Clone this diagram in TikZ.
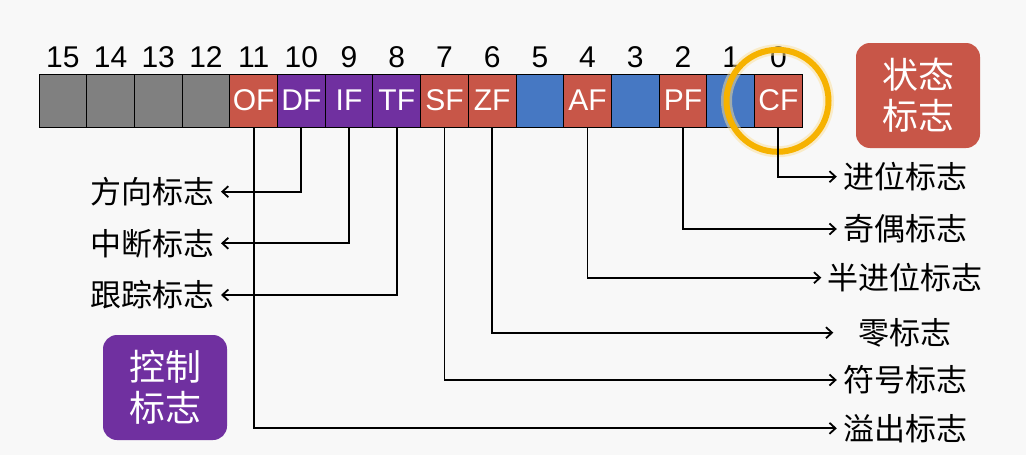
\documentclass[tikz,border=0pt]{standalone}
\usepackage{fontspec}
\setmainfont{Liberation Sans}
\newfontfamily\cjk{Noto Sans CJK SC}
\usetikzlibrary{arrows.meta}
\definecolor{bg}{RGB}{248,248,248}
\definecolor{flagred}{RGB}{200,86,72}
\definecolor{flagpurple}{RGB}{112,48,160}
\definecolor{flagblue}{RGB}{70,120,195}
\definecolor{flaggray}{RGB}{128,128,128}
\definecolor{ring}{RGB}{246,178,0}
\tikzset{
  cell/.style={draw=black, line width=1pt, minimum width=47.7pt, minimum height=53pt,
    inner sep=0pt, text=white, font=\fontsize{30}{32}\selectfont},
  num/.style={font=\fontsize{30}{32}\selectfont},
  lab/.style={font=\cjk\fontsize{31}{34}\selectfont, inner sep=6pt},
  group/.style={rounded corners=14pt, text=white, align=center, inner sep=0pt,
    minimum width=124pt, minimum height=105pt, font=\cjk\fontsize{36}{41}\selectfont},
  flow/.style={line width=1.8pt, -{Straight Barb[length=6pt,width=11pt,line width=1.8pt]}}
}
\begin{document}
\begin{tikzpicture}[x=1pt,y=-1pt]
  \fill[bg] (0,0) rectangle (1026,455);
  \useasboundingbox (0,0) rectangle (1026,455);
  % register bits
  \foreach \i/\c/\t in {15/flaggray/,14/flaggray/,13/flaggray/,12/flaggray/,
      11/flagred/OF,10/flagpurple/DF,9/flagpurple/IF,8/flagpurple/TF,
      7/flagred/SF,6/flagred/ZF,5/flagblue/,4/flagred/AF,3/flagblue/,
      2/flagred/PF,1/flagblue/,0/flagred/CF}{
    \node[cell, fill=\c] (b\i) at ({39+23.85+(15-\i)*47.7},100.5) {\t};
    \node[num] (n\i) at ({39+23.85+(15-\i)*47.7},57) {\i};
  }
  % highlight
  \draw[ring!40, line width=11pt, opacity=0.5] (777.5,100.8) circle (51);
  \draw[ring, line width=6pt] (777.5,100.8) circle (51);
  % group boxes
  \node[group, fill=flagred] (status) at (918,95.5) {状态\\标志};
  \node[group, fill=flagpurple] (control) at (165,387.5) {控制\\标志};
  % labels
  \node[lab, anchor=east] (df) at (221,191.7) {方向标志};
  \node[lab, anchor=east] (if) at (221,243.3) {中断标志};
  \node[lab, anchor=east] (tf) at (221,295) {跟踪标志};
  \node[lab] (cf) at (905,176.7) {进位标志};
  \node[lab] (pf) at (905,229) {奇偶标志};
  \node[lab] (af) at (905,277.7) {半进位标志};
  \node[lab] (zf) at (905,332.7) {零标志};
  \node[lab] (sf) at (905,380) {符号标志};
  \node[lab] (of) at (905,428.3) {溢出标志};
  % connectors
  \draw[flow] (b10.south) |- (df.east);
  \draw[flow] (b9.south) |- (if.east);
  \draw[flow] (b8.south) |- (tf.east);
  \draw[flow] (b0.south) |- (cf.west);
  \draw[flow] (b2.south) |- (pf.west);
  \draw[flow] (b4.south) |- (af.west);
  \draw[flow] (b6.south) |- ([xshift=-19pt]zf.west);
  \draw[flow] (b7.south) |- (sf.west);
  \draw[flow] (b11.south) |- (of.west);
\end{tikzpicture}
\end{document}
